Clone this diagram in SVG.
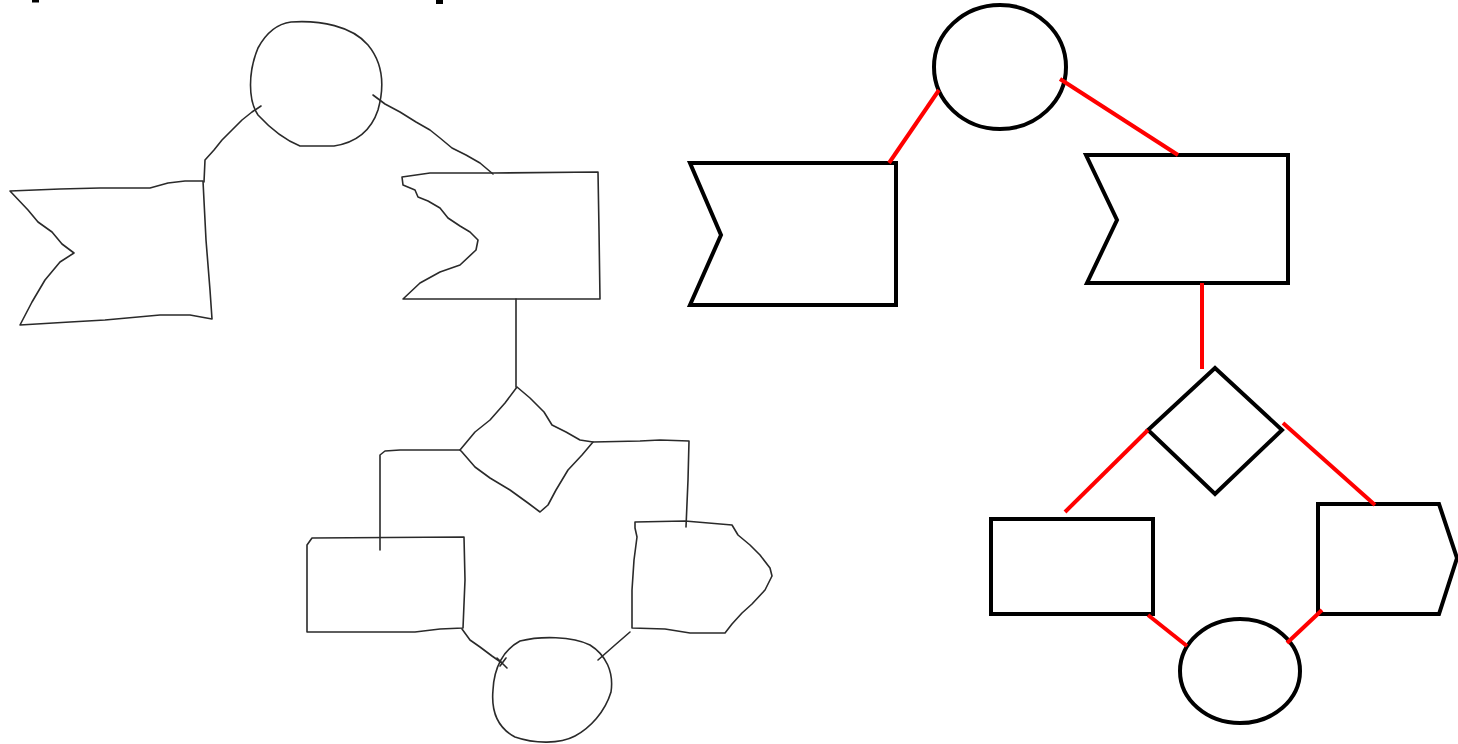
<svg xmlns="http://www.w3.org/2000/svg" width="1458" height="744" viewBox="0 0 1458 744">
<style>
.sk{fill:none;stroke:#2a2a2a;stroke-width:1.6;stroke-linejoin:round;stroke-linecap:round}
.nd{fill:none;stroke:#000;stroke-width:4;stroke-linejoin:miter}
.cn{fill:none;stroke:#ff0000;stroke-width:4;stroke-linecap:butt}
</style>
<rect width="1458" height="744" fill="#fff"/>
<rect x="32" y="0" width="7" height="2.5" fill="#000"/>
<rect x="436" y="0" width="7" height="4" fill="#000"/>

<!-- Left hand-drawn sketch -->
<g id="sketch-circle-top"><path class="sk" d="M291,22 C320,20 352,26 368,45 C382,62 385,85 378,110 C372,128 360,142 334,146 L300,146 C285,140 270,128 258,115 C248,100 248,72 258,48 C265,35 276,24 291,22 Z"/></g>
<g id="sketch-flag-left"><path class="sk" d="M10,191 L60,189 L100,188 L150,188 L168,183 L185,181 L203,181 L206,240 L210,290 L212,319 L190,315 L160,315 L105,320 L70,322 L20,325 L32,302 L45,280 L60,262 L74,253 L62,244 L52,232 L38,222 L28,210 Z"/></g>
<g id="sketch-flag-right"><path class="sk" d="M402,177 L430,173 L493,173 L598,172 L599,230 L600,299 L403,299 L420,283 L440,272 L460,265 L476,250 L478,240 L470,232 L460,226 L448,218 L440,208 L428,201 L418,197 L415,190 L403,185 Z"/></g>
<g id="sketch-diamond"><path class="sk" d="M517,387 L530,398 L544,412 L552,425 L566,432 L580,440 L593,442 L582,455 L568,470 L556,490 L548,505 L540,512 L528,503 L510,490 L490,478 L475,467 L462,452 L460,450 L475,432 L490,420 L505,403 Z"/></g>
<g id="sketch-rect"><path class="sk" d="M312,538 L464,537 L465,580 L463,628 L440,629 L415,632 L360,632 L307,632 L307,570 L307,545 Z"/></g>
<g id="sketch-pentagon"><path class="sk" d="M635,522 L685,521 L732,525 L738,535 L750,545 L760,555 L770,568 L772,576 L765,590 L752,604 L742,613 L732,624 L725,633 L690,633 L665,629 L632,628 L632,590 L634,560 L637,537 L635,528 Z"/></g>
<g id="sketch-circle-bottom"><path class="sk" d="M520,641 C540,636 572,636 590,645 C606,655 614,672 611,692 C605,712 590,728 575,736 C560,744 535,744 515,737 C498,728 491,712 493,690 C494,668 503,650 520,641 Z"/></g>

<g id="sketch-connectors">
<path class="sk" d="M261,106 L252,112 L242,120 L232,130 L222,140 L214,150 L205,160 L204,182"/>
<path class="sk" d="M373,95 L385,104 L400,112 L416,122 L430,130 L440,138 L452,148 L466,155 L480,163 L493,174"/>
<path class="sk" d="M516,299 L516,387"/>
<path class="sk" d="M460,450 L420,450 L400,450 L385,451 L380,455 L380,550"/>
<path class="sk" d="M593,442 L640,441 L660,440 L689,441 L688,480 L686,527"/>
<path class="sk" d="M462,629 L470,640 L480,647 L492,656 L502,663"/>
<path class="sk" d="M497,658 L507,668 M500,666 L506,658"/>
<path class="sk" d="M630,632 L615,645 L598,660"/>
</g>

<!-- Right clean diagram -->
<g id="node-circle-top"><ellipse class="nd" cx="1000" cy="67" rx="66" ry="62"/></g>
<g id="node-flag-left"><polygon class="nd" points="690,163 896,163 896,305 690,305 721,235"/></g>
<g id="node-flag-right"><polygon class="nd" points="1086,155 1288,155 1288,283 1087,283 1117,220"/></g>
<g id="node-diamond"><polygon class="nd" points="1215,368 1282,430 1215,494 1148,430"/></g>
<g id="node-rect"><rect class="nd" x="991" y="519" width="162" height="95"/></g>
<g id="node-pentagon"><polygon class="nd" points="1318,504 1439,504 1457,558 1439,614 1318,614"/></g>
<g id="node-circle-bottom"><ellipse class="nd" cx="1240" cy="671" rx="60" ry="52"/></g>

<g id="connectors">
<line class="cn" x1="889" y1="163" x2="939" y2="90"/>
<line class="cn" x1="1060" y1="79" x2="1178" y2="155"/>
<line class="cn" x1="1202" y1="283" x2="1202" y2="369"/>
<line class="cn" x1="1148" y1="430" x2="1065" y2="512"/>
<line class="cn" x1="1283" y1="423" x2="1375" y2="505"/>
<line class="cn" x1="1148" y1="615" x2="1187" y2="646"/>
<line class="cn" x1="1322" y1="610" x2="1287" y2="643"/>
</g>
</svg>
